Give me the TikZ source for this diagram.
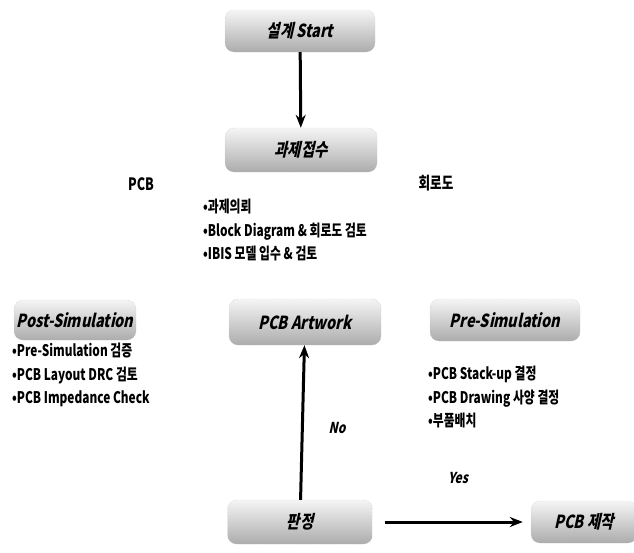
\documentclass[tikz,border=0pt]{standalone}
\usepackage{fontspec}
\setmainfont{Noto Sans CJK KR}[FakeStretch=0.74]
\newfontfamily\boxfont{Noto Sans CJK KR}[FakeStretch=0.8,UprightFeatures={FakeSlant=0.22},BoldFeatures={FakeSlant=0.22}]
\usetikzlibrary{arrows.meta}
\begin{document}
\begin{tikzpicture}[x=1pt,y=-1pt,
  box/.style={rounded corners=9pt, draw=gray!55, densely dotted, top color=gray!8, bottom color=gray!65,
    minimum height=42pt, font=\boxfont\fontsize{18}{19}\selectfont\bfseries, inner sep=0pt},
  flow/.style={line width=3pt, -{Stealth[length=13pt,width=10pt]}},
  lbl/.style={font=\fontsize{17}{18}\selectfont\bfseries},
  ital/.style={font=\boxfont\fontsize{15}{16}\selectfont\bfseries},
  list/.style={anchor=north west, align=left, inner sep=0pt, font=\fontsize{16}{23.5}\selectfont\bfseries}
]
\useasboundingbox (0,0) rectangle (634,552);
\node[box, minimum width=150pt] (start) at (300,31) {설계 Start};
\node[box, minimum width=152pt, minimum height=44pt] (recv) at (301,150) {과제접수};
\node[box, minimum width=122pt, minimum height=40pt] (post) at (75,320) {Post-Simulation};
\node[box, minimum width=152pt, minimum height=46pt] (art) at (305,322) {PCB Artwork};
\node[box, minimum width=150pt] (pre) at (505,320) {Pre-Simulation};
\node[box, minimum width=145pt, minimum height=44pt] (judge) at (300,522) {판정};
\node[box, minimum width=106pt] (make) at (584,522) {PCB 제작};

\draw[flow] (start) -- (recv);
\draw[flow] (judge) -- (art);
\draw[flow] ([xshift=12pt]judge.east) -- ([xshift=-8pt]make.west);

\node[lbl] (pcb) at (141,184) {PCB};
\node[lbl] (circ) at (436,183) {회로도};
\node[ital] (no) at (337,428) {No};
\node[ital] (yes) at (458,478) {Yes};

\node[list] (l1) at (203,199) {•과제의뢰\\•Block Diagram \& 회로도 검토\\•IBIS 모델 입수 \& 검토};
\node[list] (l2) at (12,343) {•Pre-Simulation 검증\\•PCB Layout DRC 검토\\•PCB Impedance Check};
\node[list] (l3) at (428,366) {•PCB Stack-up 결정\\•PCB Drawing 사양 결정\\•부품배치};
\end{tikzpicture}
\end{document}
